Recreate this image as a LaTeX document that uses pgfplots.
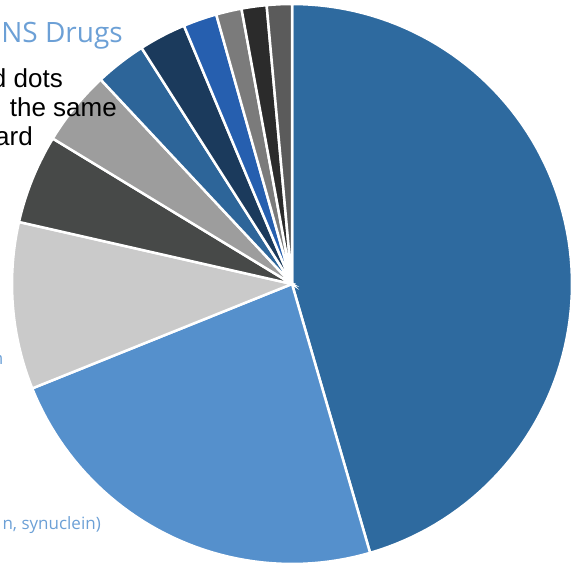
\documentclass[border=0pt]{standalone}
\usepackage{pgfplots}
\pgfplotsset{compat=1.18}
\usepackage{fontspec}
\setmainfont{Liberation Sans}
\newfontfamily\avenir{Open Sans}
\definecolor{s1}{HTML}{2E6A9F}
\definecolor{s2}{HTML}{5590CC}
\definecolor{s3}{HTML}{CACACA}
\definecolor{s4}{HTML}{474948}
\definecolor{s5}{HTML}{9D9D9D}
\definecolor{s6}{HTML}{2D6599}
\definecolor{s7}{HTML}{1B3A5C}
\definecolor{s8}{HTML}{265FAF}
\definecolor{s9}{HTML}{7B7B7B}
\definecolor{s10}{HTML}{2B2B2B}
\definecolor{s11}{HTML}{5B5B5B}
\definecolor{titleblue}{HTML}{6CA0D6}
\begin{document}
\begin{tikzpicture}[x=1pt,y=1pt]
\useasboundingbox (0,0) rectangle (579,567);
\clip (0,0) rectangle (579,567);
\begin{axis}[at={(292pt,283pt)}, anchor=origin, scale only axis,
  width=560pt, height=560pt, xmin=-1, xmax=1, ymin=-1, ymax=1,
  hide axis, clip=false]
% slices: clockwise from 12 o'clock; angles in degrees (math convention)
\addplot[fill=s1, draw=white, line width=2.5pt, domain=-73.8:90, samples=90] ({cos(x)},{sin(x)}) -- (axis cs:0,0) -- cycle;
\addplot[fill=s2, draw=white, line width=2.5pt, domain=-158.1:-73.8, samples=50] ({cos(x)},{sin(x)}) -- (axis cs:0,0) -- cycle;
\addplot[fill=s3, draw=white, line width=2.5pt, domain=-192.8:-158.1, samples=25] ({cos(x)},{sin(x)}) -- (axis cs:0,0) -- cycle;
\addplot[fill=s4, draw=white, line width=2.5pt, domain=-211.3:-192.8, samples=15] ({cos(x)},{sin(x)}) -- (axis cs:0,0) -- cycle;
\addplot[fill=s5, draw=white, line width=2.5pt, domain=-226.9:-211.3, samples=15] ({cos(x)},{sin(x)}) -- (axis cs:0,0) -- cycle;
\addplot[fill=s6, draw=white, line width=2.5pt, domain=-237.5:-226.9, samples=10] ({cos(x)},{sin(x)}) -- (axis cs:0,0) -- cycle;
\addplot[fill=s7, draw=white, line width=2.5pt, domain=-247.3:-237.5, samples=10] ({cos(x)},{sin(x)}) -- (axis cs:0,0) -- cycle;
\addplot[fill=s8, draw=white, line width=2.5pt, domain=-254.3:-247.3, samples=8] ({cos(x)},{sin(x)}) -- (axis cs:0,0) -- cycle;
\addplot[fill=s9, draw=white, line width=2.5pt, domain=-259.6:-254.3, samples=6] ({cos(x)},{sin(x)}) -- (axis cs:0,0) -- cycle;
\addplot[fill=s10, draw=white, line width=2.5pt, domain=-264.8:-259.6, samples=6] ({cos(x)},{sin(x)}) -- (axis cs:0,0) -- cycle;
\addplot[fill=s11, draw=white, line width=2.5pt, domain=-270:-264.8, samples=6] ({cos(x)},{sin(x)}) -- (axis cs:0,0) -- cycle;
\end{axis}
\node[anchor=base east, inner sep=0, text=titleblue, font=\avenir\fontsize{28}{30}\selectfont] at (123,524) {NS Drugs};
\node[anchor=base east, inner sep=0, font=\fontsize{26}{28}\selectfont] at (63,479) {d dots};
\node[anchor=base east, inner sep=0, font=\fontsize{26}{28}\selectfont] at (117,450) {the same};
\node[anchor=base east, inner sep=0, font=\fontsize{26}{28}\selectfont] at (33,421) {ard};
\node[anchor=base east, inner sep=0, text=titleblue, font=\avenir\fontsize{17}{19}\selectfont] at (3.5,202) {n};
\node[anchor=base east, inner sep=0, text=titleblue, font=\avenir\fontsize{17}{19}\selectfont] at (101,37) {n, synuclein)};
\end{tikzpicture}
\end{document}
